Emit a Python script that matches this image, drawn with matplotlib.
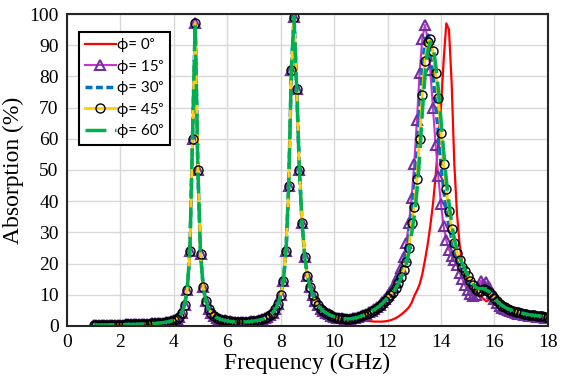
import matplotlib
matplotlib.use('Agg')
import matplotlib.pyplot as plt
import numpy as np

# frequency sweep (GHz), 1.0 to 18.0 in 0.1 steps
freq = np.round(np.arange(1.0, 18.05, 0.1), 1)

# 1.0 - 10.9 GHz: all angles overlap here
absorb_low = [
    0.3, 0.3, 0.3, 0.3, 0.3, 0.3, 0.4, 0.4, 0.4, 0.4,
    0.4, 0.4, 0.5, 0.5, 0.5, 0.5, 0.5, 0.6, 0.6, 0.6,
    0.7, 0.7, 0.8, 0.8, 0.9, 1.0, 1.1, 1.2, 1.4, 1.6,
    1.9, 2.3, 2.9, 4.3, 6.8, 11.5, 24, 60, 97, 50,
    23, 12.5, 8, 5.6, 4.2, 3.3, 2.7, 2.3, 2.0, 1.8,
    1.6, 1.5, 1.4, 1.3, 1.3, 1.3, 1.3, 1.3, 1.4, 1.5,
    1.6, 1.7, 1.9, 2.1, 2.4, 2.9, 3.5, 4.3, 5.5, 7.0,
    9.8, 14.5, 24, 45, 82, 99, 76, 50, 33, 22,
    16, 12.5, 10, 8, 6.6, 5.6, 4.8, 4.2, 3.7, 3.3,
    3.0, 2.7, 2.5, 2.4, 2.3, 2.3, 2.3, 2.4, 2.6, 2.8,
]

# 11.0 - 18.0 GHz, one list per incidence angle
high_0 = [
    2.1, 1.9, 1.7, 1.6, 1.5, 1.4, 1.4, 1.4, 1.4, 1.5,
    1.6, 1.8, 2.1, 2.5, 3.0, 3.6, 4.3, 5.1, 6.0, 7.4,
    9.6, 11.3, 13.3, 16.5, 21, 26, 32, 39, 48, 59,
    70, 85, 97, 95, 78, 52, 36, 26, 20, 16.5,
    14, 12.5, 11.5, 10.8, 10.2, 9.5, 8.6, 7.9, 8.5, 9.6,
    10, 9.3, 8.2, 7.2, 6.4, 5.8, 5.3, 4.9, 4.6, 4.4,
    4.2, 4.0, 3.8, 3.6, 3.5, 3.4, 3.3, 3.2, 3.1, 3.0,
    2.9,
]
high_15 = [
    3.2, 3.5, 3.9, 4.4, 4.9, 5.5, 6.1, 6.8, 7.7, 8.7,
    9.8, 11.0, 12.4, 14.0, 16.0, 18.5, 22, 26.5, 33, 41,
    52, 66, 81, 92, 96.5, 92, 82, 70, 58, 48,
    39, 32, 27.5, 24.5, 22.5, 21, 19.5, 17, 15, 13,
    11.5, 10.3, 9.5, 10, 12.5, 14.5, 13, 14, 12.5, 10.5,
    8.5, 7.3, 6.5, 5.9, 5.4, 5.0, 4.7, 4.4, 4.2, 4.0,
    3.8, 3.6, 3.5, 3.3, 3.2, 3.1, 3.0, 2.9, 2.8, 2.7,
    2.6,
]
high_30 = [
    3.1, 3.4, 3.8, 4.3, 4.8, 5.3, 5.9, 6.6, 7.4, 8.4,
    9.5, 10.5, 11.7, 13.2, 15, 17.2, 20, 23.5, 29, 36,
    44, 55, 69, 82, 91, 93.5, 89, 81, 71, 62,
    52, 44, 37, 32, 28, 25, 22.5, 20, 18, 16.5,
    15, 13.5, 12.3, 11.5, 11.5, 12.5, 12.5, 12.5, 11.5, 10,
    9, 8, 7.2, 6.5, 6, 5.5, 5.2, 4.9, 4.6, 4.4,
    4.2, 4.0, 3.8, 3.6, 3.5, 3.4, 3.3, 3.2, 3.1, 3.0,
    2.9,
]
high_45 = [
    3.1, 3.4, 3.8, 4.2, 4.7, 5.2, 5.8, 6.4, 7.2, 8.1,
    9.1, 10.0, 11.0, 12.2, 13.8, 15.6, 17.8, 20.5, 25, 33,
    38, 47, 60, 74, 85, 91, 92, 88, 81, 73,
    62, 52, 44, 37, 31, 26.5, 23.5, 21, 19, 17.5,
    16, 14.5, 13, 12, 11.3, 11.2, 11.8, 11.6, 11, 10,
    9, 8, 7.2, 6.5, 6, 5.5, 5.2, 4.9, 4.6, 4.4,
    4.2, 4.0, 3.8, 3.6, 3.5, 3.4, 3.3, 3.2, 3.1, 3.0,
    2.9,
]
high_60 = [
    3.1, 3.4, 3.8, 4.2, 4.7, 5.2, 5.8, 6.4, 7.2, 8.1,
    9.0, 9.9, 10.8, 12.0, 13.5, 15.2, 17.2, 19.8, 23.5, 29.5,
    35, 43, 54, 68, 80, 88, 91, 90, 84, 76,
    66, 56, 47, 39.5, 33, 28, 24.5, 22, 20, 18,
    16.5, 15, 13.5, 12.5, 12, 12, 12, 11.5, 11, 10,
    9, 8, 7.2, 6.5, 6, 5.5, 5.2, 4.9, 4.6, 4.4,
    4.2, 4.0, 3.8, 3.6, 3.5, 3.4, 3.3, 3.2, 3.1, 3.0,
    2.9,
]

labels = ['ϕ= 0ᵒ', 'ϕ= 15ᵒ', 'ϕ= 30ᵒ', 'ϕ= 45ᵒ', 'ϕ= 60ᵒ']

fig = plt.figure(figsize=(5.63, 3.89), dpi=100)
ax = fig.add_axes([0.119, 0.162, 0.854, 0.802])

ax.plot(freq, absorb_low + high_0, color='#ff0000', lw=1.6, label=labels[0])
ax.plot(freq, absorb_low + high_15, color='#cc33cc', lw=1.5, marker='^', ms=7.5,
        mfc='none', mec='#7030a0', mew=1.5, label=labels[1])
ax.plot(freq, absorb_low + high_30, color='#0070c0', lw=2.5, ls=(0, (2, 1)), label=labels[2])
ax.plot(freq, absorb_low + high_45, color='#ffd000', lw=2.0, marker='o', ms=6.5,
        mfc='none', mec='black', mew=1.0, label=labels[3])
ax.plot(freq, absorb_low + high_60, color='#00b050', lw=2.5, ls=(0, (6, 2.5)), label=labels[4])

ax.set_xlim(0, 18)
ax.set_ylim(0, 100)
ax.set_xticks(np.arange(0, 19, 2))
ax.set_yticks(np.arange(0, 101, 10))
ax.grid(True, color='#d9d9d9', lw=1.0)
ax.set_axisbelow(True)
ax.tick_params(length=0, labelsize=14, pad=6)
for lab in ax.get_xticklabels() + ax.get_yticklabels():
    lab.set_fontfamily('Liberation Serif')
for sp in ax.spines.values():
    sp.set_color('#262626')
    sp.set_linewidth(1.5)

ax.set_xlabel('Frequency (GHz)', fontfamily='Liberation Serif', fontsize=17, labelpad=1)
ax.set_ylabel('Absorption (%)', fontfamily='Liberation Serif', fontsize=17, labelpad=4)

leg = ax.legend(loc='upper left', bbox_to_anchor=(0.025, 0.943), borderaxespad=0,
                fancybox=False, framealpha=1, edgecolor='black', handlelength=2.0,
                handletextpad=0.1, borderpad=0.4, labelspacing=0.5,
                prop=dict(family=['Lato', 'DejaVu Sans'], size=11))
leg.get_frame().set_linewidth(1.5)

plt.savefig('out.png', dpi=100)
plt.close()
